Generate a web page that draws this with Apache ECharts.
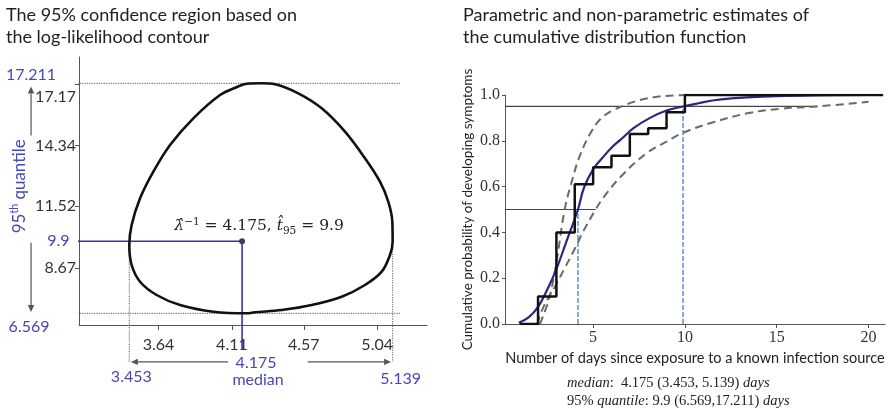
<!DOCTYPE html>
<html>
<head>
<meta charset="utf-8">
<script src="https://cdn.jsdelivr.net/npm/echarts@6/dist/echarts.min.js"></script>
<style>
html, body { margin: 0; padding: 0; background: #fff; }
#chart { width: 892px; height: 413px; }
</style>
</head>
<body>
<div id="chart"></div>
<script>
// ---------- Left panel: 95% confidence region (log-likelihood contour) ----------
const contourMedian = [4.30, 4.386, 4.535, 4.685, 4.834, 4.962, 5.058, 5.111, 5.137, 5.139, 5.122, 5.069, 4.962, 4.813, 4.621, 4.429, 4.258, 4.205, 3.991, 3.778, 3.628, 3.522, 3.468, 3.453, 3.468, 3.522, 3.607, 3.714, 3.863, 4.034, 4.142, 4.205, 4.30];
const contourQ95    = [17.211, 17.17, 16.748, 16.054, 14.972, 13.741, 12.658, 11.733, 10.807, 9.882, 9.267, 8.494, 7.878, 7.337, 6.953, 6.721, 6.615, 6.569, 6.643, 6.953, 7.416, 8.031, 8.804, 9.729, 10.655, 11.890, 13.121, 14.356, 15.592, 16.670, 17.04, 17.19, 17.211];

const medianEst = 4.175;
const q95Est = 9.9;
const medianCI = [3.453, 5.139];
const q95CI = [6.569, 17.211];

const leftXTicks = [3.64, 4.11, 4.57, 5.04];
const leftYTicks = [8.67, 11.52, 14.34, 17.17];

// ---------- Right panel: CDF estimates ----------
const ecdfDays = [1, 2, 3, 4, 5, 6, 7, 8, 9, 10, 20.8];
const ecdfProb = [0, 0.12, 0.40, 0.61, 0.685, 0.735, 0.83, 0.855, 0.925, 1, 1];

const fitDays = [0.95, 1.5, 2.0, 2.5, 3.0, 3.5, 4.175, 4.5, 5.0, 5.5, 6.0, 6.5, 7.2, 8.1, 9.0, 9.9, 10.8, 11.6, 12.5, 13.4, 15, 17, 20];
const fitProb = [0.005, 0.03, 0.075, 0.15, 0.24, 0.35, 0.5, 0.595, 0.675, 0.725, 0.77, 0.805, 0.855, 0.9, 0.932, 0.95, 0.965, 0.977, 0.985, 0.99, 0.995, 0.998, 1.0];

const upperDays = [2.1, 2.6, 3.0, 3.453, 3.9, 4.3, 4.9, 5.4, 6.0, 6.569, 7.2, 8.3, 9.4, 11, 20];
const upperProb = [0.0, 0.11, 0.27, 0.5, 0.64, 0.74, 0.84, 0.895, 0.93, 0.95, 0.97, 0.99, 0.998, 1.0, 1.0];

const lowerDays = [1.95, 2.3, 3.0, 3.4, 3.95, 4.5, 5.139, 5.6, 6.5, 7.9, 9.0, 9.9, 11.5, 13.4, 15.2, 17.211, 20];
const lowerProb = [0.0, 0.075, 0.175, 0.236, 0.32, 0.41, 0.5, 0.556, 0.643, 0.745, 0.796, 0.835, 0.88, 0.92, 0.94, 0.95, 0.97];

const rightXTicks = [5, 10, 15, 20];

// guide extents (data units) for the annotation lines that run outside the plot
const guideStartMedian = 2.72;
const guideEndMedian = 5.19;
const blueStartMedian = 3.07;
const blueEndQ95 = 4.87;
const arrowLevelQ95 = 4.32;
const arrowColumnMedian = 2.824;
const dayAxisStart = 0.2;

const zip = (a, b) => a.map((v, i) => [v, b[i]]);

const SANS = 'Lato, "Noto Sans", sans-serif';
const SERIF = '"Liberation Serif", "DejaVu Serif", serif';
const MATH = '"DejaVu Serif", serif';
const BLUE_TEXT = '#4747b8';
const BLUE_LINE = '#3535a5';
const GUIDE = '#777';

const chart = echarts.init(document.getElementById('chart'), null, { renderer: 'canvas' });

function guideSeries(data, color, width, type, grid) {
  return {
    type: 'line', xAxisIndex: grid, yAxisIndex: grid, data: data,
    symbol: 'none', clip: false, silent: true, animation: false,
    lineStyle: { color: color, width: width, type: type }
  };
}

const titleStyle = { fontFamily: SANS, fontSize: 18, fontWeight: 'normal', color: '#222', lineHeight: 22 };

const option = {
  animation: false,
  backgroundColor: '#fff',
  title: [
    {
      text: 'The 95% confidence region based on\nthe log-likelihood contour',
      left: 6, top: 4, padding: 0, textStyle: titleStyle
    },
    {
      text: 'Parametric and non-parametric estimates of\nthe cumulative distribution function',
      left: 463, top: 4, padding: 0, textStyle: titleStyle
    }
  ],
  grid: [
    { left: 79, top: 57, width: 348, height: 268 },
    { left: 505, top: 95, width: 380, height: 229 }
  ],
  xAxis: [
    {
      type: 'value', gridIndex: 0, min: 3.131, max: 5.359,
      axisLine: { show: true, lineStyle: { color: '#555', width: 1 } },
      axisTick: { show: true, length: 5, customValues: leftXTicks, lineStyle: { color: '#555' } },
      axisLabel: { customValues: leftXTicks, margin: 12, fontFamily: SANS, fontSize: 16, color: '#333' },
      splitLine: { show: false }
    },
    {
      type: 'value', gridIndex: 1, min: dayAxisStart, max: 20.9,
      name: 'Number of days since exposure to a known infection source',
      nameLocation: 'middle', nameGap: 24,
      nameTextStyle: { fontFamily: SANS, fontSize: 14.5, color: '#222' },
      axisLine: { show: true, lineStyle: { color: '#555', width: 1 } },
      axisTick: { show: true, length: 4, customValues: rightXTicks, lineStyle: { color: '#555' } },
      axisLabel: { customValues: rightXTicks, margin: 6, fontFamily: SERIF, fontSize: 16, color: '#333' },
      splitLine: { show: false }
    }
  ],
  yAxis: [
    {
      type: 'value', gridIndex: 0, min: 6.028, max: 18.428,
      axisLine: { show: true, lineStyle: { color: '#555', width: 1 } },
      axisTick: { show: true, length: 4, customValues: leftYTicks, lineStyle: { color: '#555' } },
      axisLabel: {
        customValues: leftYTicks, margin: 3, fontFamily: SANS, fontSize: 16, color: '#333',
        formatter: v => (v === leftYTicks[leftYTicks.length - 1] ? '{low|' + v + '}' : String(v)),
        rich: { low: { fontFamily: SANS, fontSize: 16, color: '#333', padding: [26, 0, 0, 0] } }
      },
      splitLine: { show: false }
    },
    {
      type: 'value', gridIndex: 1, min: 0, max: 1, interval: 0.2,
      name: 'Cumulative probability of developing symptoms',
      nameLocation: 'middle', nameGap: 30, nameRotate: 90,
      nameTextStyle: { fontFamily: SANS, fontSize: 13.5, color: '#222' },
      axisLine: { show: true, lineStyle: { color: '#555', width: 1 } },
      axisTick: { show: true, length: 3, lineStyle: { color: '#555' } },
      axisLabel: { margin: 5, fontFamily: SERIF, fontSize: 16, color: '#333', formatter: v => v.toFixed(1) },
      splitLine: { show: false }
    }
  ],
  series: [
    // dotted guides at the interval bounds
    guideSeries([[guideStartMedian, q95CI[1]], [guideEndMedian, q95CI[1]]], GUIDE, 1.2, 'dotted', 0),
    guideSeries([[guideStartMedian, q95CI[0]], [guideEndMedian, q95CI[0]]], GUIDE, 1.2, 'dotted', 0),
    guideSeries([[medianCI[0], 9.6], [medianCI[0], arrowLevelQ95]], GUIDE, 1.2, 'dotted', 0),
    guideSeries([[medianCI[1], 9.88], [medianCI[1], arrowLevelQ95]], GUIDE, 1.2, 'dotted', 0),
    // point estimate cross-hair
    guideSeries([[blueStartMedian, q95Est], [medianEst, q95Est], [medianEst, blueEndQ95]], BLUE_LINE, 1.6, 'solid', 0),
    {
      type: 'line', xAxisIndex: 0, yAxisIndex: 0, name: 'contour',
      data: zip(contourMedian, contourQ95), smooth: 0.35, symbol: 'none',
      lineStyle: { color: '#111', width: 2.6 }
    },
    {
      type: 'scatter', xAxisIndex: 0, yAxisIndex: 0,
      data: [[medianEst, q95Est]], symbolSize: 6, itemStyle: { color: '#111' }
    },

    // right panel reference lines
    guideSeries([[dayAxisStart, 0.5], [medianCI[1], 0.5]], '#444', 1.2, 'solid', 1),
    guideSeries([[dayAxisStart, 0.95], [q95CI[1], 0.95]], '#444', 1.2, 'solid', 1),
    guideSeries([[medianEst, 0], [medianEst, 0.5]], '#4f86d0', 1.4, [5, 2], 1),
    guideSeries([[q95Est, 0], [q95Est, 0.95]], '#4f86d0', 1.4, [5, 2], 1),
    {
      type: 'line', xAxisIndex: 1, yAxisIndex: 1, name: 'upper',
      data: zip(upperDays, upperProb), smooth: 0.4, symbol: 'none',
      lineStyle: { color: '#6a6a6a', width: 2, type: [8, 5] }
    },
    {
      type: 'line', xAxisIndex: 1, yAxisIndex: 1, name: 'lower',
      data: zip(lowerDays, lowerProb), smooth: 0.4, symbol: 'none',
      lineStyle: { color: '#6a6a6a', width: 2, type: [8, 5] }
    },
    {
      type: 'line', xAxisIndex: 1, yAxisIndex: 1, name: 'parametric',
      data: zip(fitDays, fitProb), smooth: 0.4, symbol: 'none',
      lineStyle: { color: '#28287e', width: 2.2 }
    },
    {
      type: 'line', xAxisIndex: 1, yAxisIndex: 1, name: 'empirical',
      data: zip(ecdfDays, ecdfProb), step: 'end', symbol: 'none',
      lineStyle: { color: '#111', width: 2.5 }
    }
  ]
};

chart.setOption(option);

// ---------- annotations placed through the left panel's scales ----------
const toPx = (x, y) => chart.convertToPixel({ gridIndex: 0 }, [x, y]);

function arrow(from, to, color) {
  const p0 = toPx(from[0], from[1]);
  const p1 = toPx(to[0], to[1]);
  const dx = p1[0] - p0[0], dy = p1[1] - p0[1];
  const L = Math.hypot(dx, dy);
  const ux = dx / L, uy = dy / L;
  const hl = 7, hw = 3.2;
  const bx = p1[0] - ux * hl, by = p1[1] - uy * hl;
  return [
    { type: 'line', shape: { x1: p0[0], y1: p0[1], x2: bx, y2: by }, style: { stroke: color, lineWidth: 1.2 } },
    { type: 'polygon', shape: { points: [[p1[0], p1[1]], [bx - uy * hw, by + ux * hw], [bx + uy * hw, by - ux * hw]] }, style: { fill: color } }
  ];
}

function label(text, x, y, dx, dy, align) {
  const p = toPx(x, y);
  return {
    type: 'text', x: p[0] + dx, y: p[1] + dy,
    style: { text: text, fontFamily: SANS, fontSize: 16, fill: BLUE_TEXT, align: align, verticalAlign: 'middle' }
  };
}

const graphics = [];
graphics.push(...arrow([arrowColumnMedian, 14.8], [arrowColumnMedian, 17.06], '#555'));
graphics.push(...arrow([arrowColumnMedian, 9.83], [arrowColumnMedian, 6.63], '#555'));
graphics.push(...arrow([4.085, arrowLevelQ95], [medianCI[0] + 0.01, arrowLevelQ95], '#555'));
graphics.push(...arrow([4.595, arrowLevelQ95], [medianCI[1] - 0.01, arrowLevelQ95], '#555'));

graphics.push(label(String(q95CI[1]), arrowColumnMedian, q95CI[1], 0, -8, 'center'));
graphics.push(label(String(q95CI[0]), arrowColumnMedian, q95CI[0], -2, 14, 'center'));
graphics.push(label(String(q95Est), blueStartMedian, q95Est, 0, 0, 'right'));
graphics.push(label(String(medianCI[0]), medianCI[0], arrowLevelQ95, 2, 15, 'center'));
graphics.push(label(String(medianCI[1]), medianCI[1], arrowLevelQ95, 8, 17, 'center'));
graphics.push(label(String(medianEst), medianEst, arrowLevelQ95, 14, 1, 'center'));
graphics.push(label('median', medianEst, arrowLevelQ95, 16, 18, 'center'));

// rotated caption "95th quantile", ending just above the 9.9 guide
(function () {
  const p = toPx(arrowColumnMedian, q95Est);
  graphics.push({
    type: 'text', x: p[0] - 12, y: p[1] - 8, rotation: Math.PI / 2,
    style: {
      text: '{n|95}{s|th}{n| quantile}', align: 'left', verticalAlign: 'middle',
      rich: {
        n: { fontFamily: SANS, fontSize: 17, fill: BLUE_TEXT, lineHeight: 19 },
        s: { fontFamily: SANS, fontSize: 10.5, fill: BLUE_TEXT, verticalAlign: 'top', lineHeight: 19 }
      }
    }
  });
})();

// point-estimate formula
(function () {
  const p = toPx(medianEst, q95Est);
  graphics.push({
    type: 'text', x: p[0] + 17, y: p[1] - 15,
    style: {
      text: '{v|λ\u0302}{sup|\u22121}{t| = ' + medianEst + ', }{v|t\u0302}{sub|95}{t| = ' + q95Est + '}',
      align: 'center', verticalAlign: 'middle',
      rich: {
        v: { fontFamily: MATH, fontStyle: 'italic', fontSize: 15.5, fill: '#222', lineHeight: 20 },
        t: { fontFamily: MATH, fontSize: 15.5, fill: '#222', lineHeight: 20 },
        sup: { fontFamily: MATH, fontSize: 10.5, fill: '#222', verticalAlign: 'top', lineHeight: 20 },
        sub: { fontFamily: MATH, fontSize: 10.5, fill: '#222', verticalAlign: 'bottom', lineHeight: 20 }
      }
    }
  });
})();

// summary below the right panel
graphics.push({
  type: 'text', x: 567, y: 374,
  style: {
    text: '{i|median}{n|:  ' + medianEst + ' (' + medianCI[0] + ', ' + medianCI[1] + ') }{i|days}\n' +
          '{n|95% }{i|quantile}{n|: ' + q95Est + ' (' + q95CI[0] + ',' + q95CI[1] + ') }{i|days}',
    rich: {
      i: { fontFamily: SERIF, fontStyle: 'italic', fontSize: 14.5, fill: '#222', lineHeight: 18 },
      n: { fontFamily: SERIF, fontSize: 14.5, fill: '#222', lineHeight: 18 }
    }
  }
});

chart.setOption({ graphic: graphics });
</script>
</body>
</html>
